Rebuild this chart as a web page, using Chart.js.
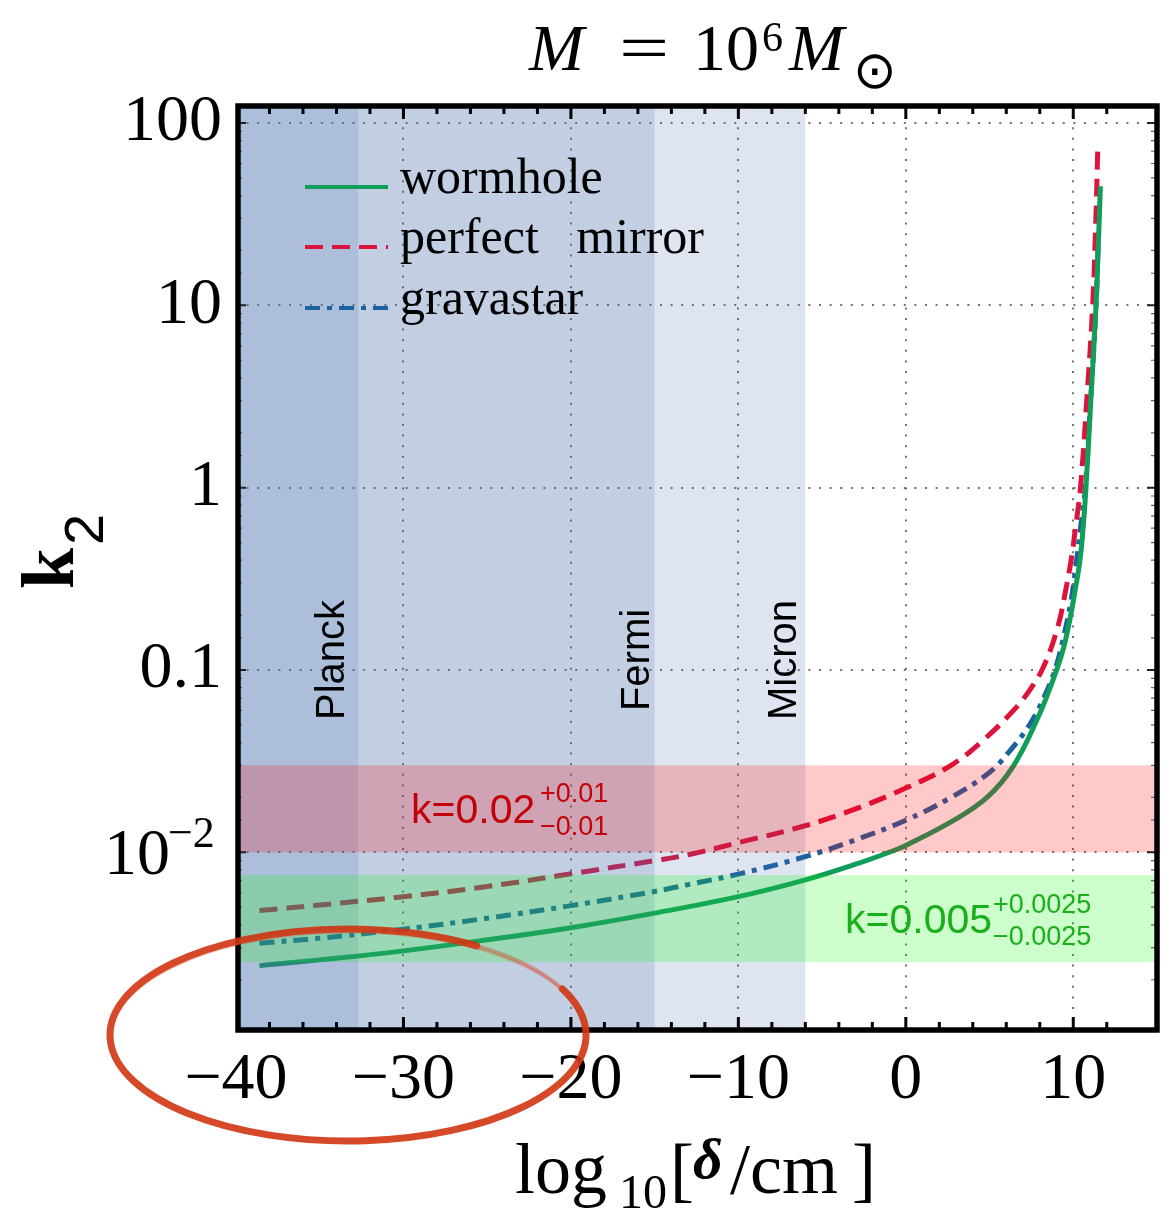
<!DOCTYPE html>
<html>
<head>
<meta charset="utf-8">
<script src="https://cdn.jsdelivr.net/npm/chart.js@4.4.1/dist/chart.umd.min.js"></script>
<style>
  html, body { margin: 0; padding: 0; background: #fff; }
  canvas { display: block; }
</style>
</head>
<body>
<canvas id="k2chart" width="1168" height="1213"></canvas>
<script>
// k2 against log10(delta / cm) for M = 1e6 Msun
var wormholeX = [-38.6, -35, -30, -25, -20, -15, -10, -6, -3, -1, 0, 2.93, 4.9, 6.4, 7.9, 8.9, 9.4, 9.8, 10.1, 10.4, 10.6, 10.76, 11.06, 11.36, 11.5, 11.62];
var wormholeK = [0.00239, 0.00257, 0.00288, 0.00331, 0.00386, 0.00464, 0.00571, 0.00706, 0.0086, 0.0100, 0.0109, 0.0151, 0.0202, 0.0295, 0.055, 0.094, 0.13, 0.19, 0.27, 0.40, 0.62, 1.0, 3.16, 10, 22, 45];

var mirrorX = [-38.6, -35, -30, -25, -20, -15, -13, -10, -6, -3, 0, 2.7, 4.6, 6.5, 7.5, 8.3, 9.08, 9.5, 9.87, 10.15, 10.43, 10.82, 11.16, 11.35, 11.46];
var mirrorK = [0.00479, 0.00514, 0.00571, 0.00649, 0.00762, 0.0090, 0.0097, 0.0113, 0.014, 0.0173, 0.0225, 0.030, 0.041, 0.061, 0.080, 0.108, 0.173, 0.26, 0.40, 0.62, 1.0, 3.16, 10, 30, 71];

var gravastarX = [-38.6, -35, -30, -25, -20, -15, -13, -10, -6, -3, 0, 2.53, 4.9, 6.1, 7.5, 8.48, 8.98, 9.48, 9.87, 10.17, 10.45, 10.72, 11.05, 11.36, 11.5];
var gravastarK = [0.00317, 0.00338, 0.00379, 0.00435, 0.0051, 0.0061, 0.00665, 0.00759, 0.00947, 0.0117, 0.015, 0.0196, 0.027, 0.035, 0.052, 0.079, 0.105, 0.16, 0.24, 0.38, 0.62, 1.0, 3.16, 10, 25];

var seriesNames = ['wormhole', 'perfect   mirror', 'gravastar'];

// length scales (log10 cm) and their labels
var scaleEdges = [-32.7, -15, -6];
var scaleNames = ['Planck', 'Fermi', 'Micron'];
var scaleLabelX = [344, 649, 796];

// measured k bands: centre, +err, -err
var bandRed = [0.02, 0.01, 0.01];
var bandGreen = [0.005, 0.0025, 0.0025];

var xTicksMajor = [-40, -30, -20, -10, 0, 10];

function pts(xs, ys) {
  return xs.map(function(x, i){ return {x: x, y: ys[i]}; });
}

function isDecade(v) {
  var l = Math.log10(v);
  return Math.abs(l - Math.round(l)) < 1e-9;
}

var serif = '"Liberation Serif", "DejaVu Serif", serif';
var sans = '"Liberation Sans", Arial, sans-serif';

var shading = {
  id: 'shading',
  afterDatasetsDraw: function(chart) {
    var c = chart.ctx, a = chart.chartArea;
    var xs = chart.scales.x, ys = chart.scales.y;
    c.save();
    c.beginPath();
    c.rect(a.left, a.top, a.right - a.left, a.bottom - a.top);
    c.clip();
    // blue length-scale regions, stacked
    scaleEdges.forEach(function(e){
      c.fillStyle = 'rgba(70,110,170,0.175)';
      c.fillRect(a.left, a.top, xs.getPixelForValue(e) - a.left, a.bottom - a.top);
    });
    // red band (lower edge sits at 0.01)
    var yt = ys.getPixelForValue(bandRed[0] + bandRed[1]);
    var yb = ys.getPixelForValue(bandRed[0] - bandRed[2]);
    c.fillStyle = 'rgba(255,0,0,0.21)';
    c.fillRect(a.left, yt, a.right - a.left, yb - yt);
    // green band
    yt = ys.getPixelForValue(bandGreen[0] + bandGreen[1]);
    yb = ys.getPixelForValue(bandGreen[0] - bandGreen[2]);
    c.fillStyle = 'rgba(0,255,0,0.2)';
    c.fillRect(a.left, yt, a.right - a.left, yb - yt);
    c.restore();

    // band texts
    c.save();
    c.textAlign = 'left';
    c.textBaseline = 'alphabetic';
    c.fillStyle = '#c40008';
    c.font = '41px ' + sans;
    c.fillText('k=' + bandRed[0], 411, 823);
    c.font = '27px ' + sans;
    c.fillText('+' + bandRed[1], 540, 802);
    c.fillText('\u2212' + bandRed[2], 540, 835);
    c.fillStyle = '#1aae1a';
    c.font = '41px ' + sans;
    c.fillText('k=' + bandGreen[0], 845, 933);
    c.font = '27px ' + sans;
    c.fillText('+' + bandGreen[1], 993, 913);
    c.fillText('\u2212' + bandGreen[2], 993, 945);

    // vertical scale names
    c.fillStyle = '#000';
    c.font = '40px ' + sans;
    c.textAlign = 'center';
    scaleNames.forEach(function(n, i){
      c.save();
      c.translate(scaleLabelX[i], 660);
      c.rotate(-Math.PI / 2);
      c.fillText(n, 0, 0);
      c.restore();
    });

    // legend
    var ly = [187, 247, 308];
    chart.data.datasets.forEach(function(ds, i){
      c.strokeStyle = ds.borderColor;
      c.lineWidth = 4;
      c.setLineDash(ds.borderDash || []);
      c.beginPath();
      c.moveTo(305, ly[i]);
      c.lineTo(388, ly[i]);
      c.stroke();
    });
    c.setLineDash([]);
    c.fillStyle = '#000';
    c.textAlign = 'left';
    c.font = '50px ' + serif;
    chart.data.datasets.forEach(function(ds, i){
      c.fillText(ds.label, 400, ly[i] + 6);
    });
    c.restore();
  }
};

var frame = {
  id: 'frame',
  afterDraw: function(chart) {
    var c = chart.ctx, a = chart.chartArea;
    var xs = chart.scales.x, ys = chart.scales.y;
    c.save();
    // tick marks pointing inwards on all four sides
    c.strokeStyle = '#000';
    xs.ticks.forEach(function(t){
      if (t.value <= xs.min || t.value >= xs.max) return;
      var px = xs.getPixelForValue(t.value);
      var major = t.value % 10 === 0;
      var len = major ? 13 : 8;
      c.lineWidth = 3;
      c.beginPath();
      c.moveTo(px, a.bottom); c.lineTo(px, a.bottom - len);
      c.moveTo(px, a.top); c.lineTo(px, a.top + len);
      c.stroke();
    });
    ys.ticks.forEach(function(t){
      if (t.value <= ys.min || t.value >= ys.max) return;
      var py = ys.getPixelForValue(t.value);
      var major = isDecade(t.value);
      var len = major ? 10 : 6;
      c.lineWidth = major ? 2 : 1.2;
      c.strokeStyle = major ? '#222' : '#666';
      c.beginPath();
      c.moveTo(a.left, py); c.lineTo(a.left + len, py);
      c.moveTo(a.right, py); c.lineTo(a.right - len, py);
      c.stroke();
    });
    c.strokeStyle = '#000';
    c.lineWidth = 5.5;
    c.strokeRect(a.left + 2, a.top, a.right - a.left - 2, a.bottom - a.top);

    // 10^-2 tick label
    var p2 = ys.getPixelForValue(0.01);
    c.fillStyle = '#000';
    c.textAlign = 'left';
    c.textBaseline = 'alphabetic';
    c.font = '66px ' + serif;
    c.fillText('10', 104, p2 + 22);
    c.font = '44px ' + serif;
    c.fillText('\u22122', 168, p2 - 5);

    // title M = 10^6 Msun
    c.font = 'italic 66px ' + serif;
    c.fillText('M', 529, 70);
    c.save();
    c.translate(644, 70);
    c.scale(1.35, 1);
    c.textAlign = 'center';
    c.font = '66px ' + serif;
    c.fillText('=', 0, 0);
    c.restore();
    c.font = '66px ' + serif;
    c.fillText('10', 693, 70);
    c.font = '42px ' + serif;
    c.fillText('6', 762, 51);
    c.font = 'italic 66px ' + serif;
    c.fillText('M', 789, 70);
    c.font = '52px "DejaVu Sans", sans-serif';
    c.fillText('\u2299', 853, 88);

    // x title
    c.font = '72px ' + serif;
    c.fillText('log', 515, 1193);
    c.font = '48px ' + serif;
    c.fillText('10', 619, 1208);
    c.font = '72px ' + serif;
    c.fillText('[', 670, 1193);
    c.font = 'italic bold 58px ' + serif;
    c.fillText('\u03b4', 693, 1178);
    c.font = '72px ' + serif;
    c.fillText('/cm', 730, 1193);
    c.fillText(']', 852, 1193);

    // y title k_2
    c.save();
    c.translate(73, 589);
    c.rotate(-Math.PI / 2);
    c.font = 'bold 74px ' + serif;
    c.fillText('k', 0, 0);
    c.font = '56px ' + sans;
    c.fillText('2', 44, 30);
    c.restore();

    // red marker ring round the lower-left corner
    var cx = 348, cy = 1035, rx = 238, ry = 106;
    c.lineCap = 'round';
    c.strokeStyle = 'rgba(208,52,18,0.9)';
    c.lineWidth = 7;
    c.beginPath();
    c.ellipse(cx, cy, rx, ry, 0, -0.45, 2 * Math.PI - 1.0);
    c.stroke();
    c.strokeStyle = 'rgba(210,65,30,0.4)';
    c.lineWidth = 4;
    c.beginPath();
    c.ellipse(cx, cy, rx, ry, 0, -1.0, -0.45);
    c.stroke();
    c.strokeStyle = 'rgba(215,75,40,0.3)';
    c.lineWidth = 3;
    c.beginPath();
    c.ellipse(cx + 1.5, cy + 2, rx, ry - 1, 0, 0, 2 * Math.PI);
    c.stroke();
    c.restore();
  }
};

new Chart(document.getElementById('k2chart'), {
  type: 'line',
  data: {
    datasets: [
      { label: seriesNames[0], data: pts(wormholeX, wormholeK), borderColor: '#119e58', borderWidth: 5, tension: 0.4, pointRadius: 0, fill: false },
      { label: seriesNames[1], data: pts(mirrorX, mirrorK), borderColor: '#dc143c', borderWidth: 5, borderDash: [18, 9], tension: 0.4, pointRadius: 0, fill: false },
      { label: seriesNames[2], data: pts(gravastarX, gravastarK), borderColor: '#1d62a0', borderWidth: 5, borderDash: [15, 7, 5, 7], tension: 0.4, pointRadius: 0, fill: false }
    ]
  },
  options: {
    responsive: false,
    animation: false,
    layout: { padding: { top: 106, right: 8, left: 0, bottom: 0 } },
    plugins: { legend: { display: false }, tooltip: { enabled: false } },
    scales: {
      x: {
        type: 'linear', min: -40, max: 15,
        ticks: {
          stepSize: 2, autoSkip: false, maxRotation: 0, padding: 11, color: '#000',
          font: { family: serif, size: 66 },
          callback: function(v) {
            if (xTicksMajor.indexOf(v) < 0) return '';
            return v < 0 ? '\u2212' + Math.abs(v) : String(v);
          }
        },
        grid: {
          drawTicks: false, lineWidth: 2,
          color: function(ctx) {
            var v = ctx.tick && ctx.tick.value;
            return (v > -40 && v % 10 === 0) ? 'rgba(90,90,90,0.85)' : 'rgba(0,0,0,0)';
          }
        },
        border: { display: false, dash: [2, 8.6] },
        afterFit: function(s) { s.height = 183; }
      },
      y: {
        type: 'logarithmic', min: 0.00106, max: 124,
        ticks: {
          autoSkip: false, padding: 14, color: '#000',
          font: { family: serif, size: 66 },
          callback: function(v) {
            if (!isDecade(v) || v < 0.05) return '';
            return v >= 1 ? String(Math.round(v)) : '0.1';
          }
        },
        grid: {
          drawTicks: false, lineWidth: 2,
          color: function(ctx) {
            var v = ctx.tick && ctx.tick.value;
            return (v && isDecade(v)) ? 'rgba(90,90,90,0.85)' : 'rgba(0,0,0,0)';
          }
        },
        border: { display: false, dash: [2, 8.6] },
        afterFit: function(s) { s.width = 236; }
      }
    }
  },
  plugins: [shading, frame]
});
</script>
</body>
</html>
